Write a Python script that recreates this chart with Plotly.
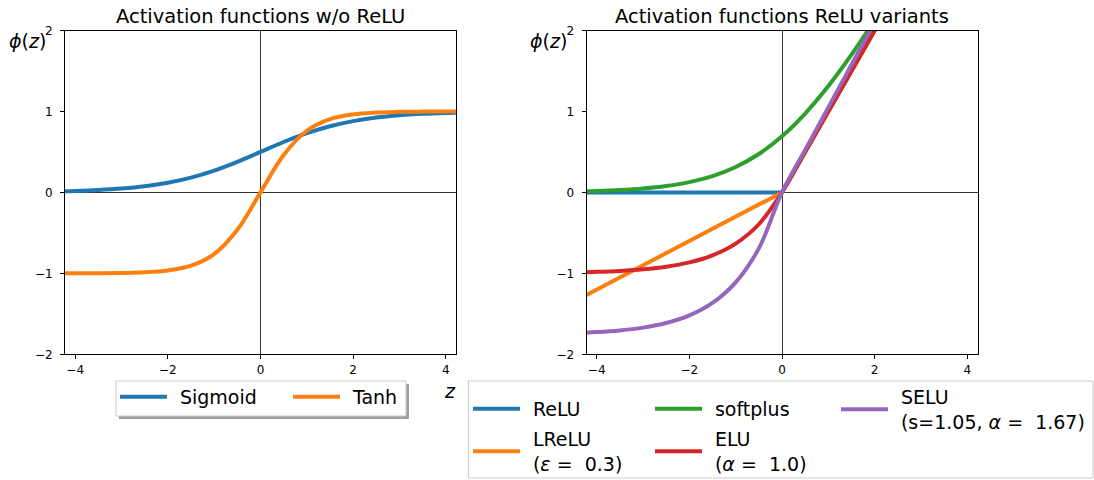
import plotly.graph_objects as go

W, H = 1094, 480

# ---------------- data ----------------
z = [-4.5, -4.0, -3.5, -3.0, -2.5, -2.0, -1.5, -1.0, -0.5, 0.0,
     0.5, 1.0, 1.5, 2.0, 2.5, 3.0, 3.5, 4.0, 4.5]

sigmoid = [0.0110, 0.0180, 0.0293, 0.0474, 0.0759, 0.1192, 0.1824, 0.2689, 0.3775, 0.5,
           0.6225, 0.7311, 0.8176, 0.8808, 0.9241, 0.9526, 0.9707, 0.9820, 0.9890]
tanh = [-0.9998, -0.9993, -0.9982, -0.9951, -0.9866, -0.9640, -0.9051, -0.7616, -0.4621, 0.0,
        0.4621, 0.7616, 0.9051, 0.9640, 0.9866, 0.9951, 0.9982, 0.9993, 0.9998]

relu = [0, 0, 0, 0, 0, 0, 0, 0, 0, 0,
        0.5, 1.0, 1.5, 2.0, 2.5, 3.0, 3.5, 4.0, 4.5]
lrelu = [-1.35, -1.2, -1.05, -0.9, -0.75, -0.6, -0.45, -0.3, -0.15, 0.0,
         0.5, 1.0, 1.5, 2.0, 2.5, 3.0, 3.5, 4.0, 4.5]
softplus = [0.0110, 0.0181, 0.0298, 0.0486, 0.0789, 0.1269, 0.2014, 0.3133, 0.4741, 0.6931,
            0.9741, 1.3133, 1.7014, 2.1269, 2.5789, 3.0486, 3.5298, 4.0181, 4.5110]
elu = [-0.9889, -0.9817, -0.9698, -0.9502, -0.9179, -0.8647, -0.7769, -0.6321, -0.3935, 0.0,
       0.5, 1.0, 1.5, 2.0, 2.5, 3.0, 3.5, 4.0, 4.5]
selu = [-1.7386, -1.7259, -1.7050, -1.6705, -1.6138, -1.5202, -1.3659, -1.1113, -0.6918, 0.0,
        0.5254, 1.0507, 1.5761, 2.1014, 2.6268, 3.1521, 3.6775, 4.2028, 4.7282]

left_names = ["Sigmoid", "Tanh"]
right_names = ["ReLU", "LReLU<br>(<i>ε</i> =\u00a0 0.3)", "softplus",
               "ELU<br>(<i>α</i> =\u00a0 1.0)", "SELU<br>(s=1.05, <i>α</i> =\u00a0 1.67)"]
titles = ["Activation functions w/o ReLU", "Activation functions ReLU variants"]
ticks = [-4, -2, 0, 2, 4]
yticks = [-2, -1, 0, 1, 2]

colors = ["#1f77b4", "#ff7f0e", "#2ca02c", "#d62728", "#9467bd"]
FONT = "DejaVu Sans"
LW = 4
ITEMW = 47
PAD = "\u00a0\u200a"  # small lead-in so legend text sits a little further from its line


def padded(label):
    return "<br>".join(PAD + part for part in label.split("<br>"))


def px(x):
    return x / W


def py(y):
    return 1 - y / H


fig = go.Figure()

# left panel
for name, ys, c in zip(left_names, [sigmoid, tanh], colors[:2]):
    fig.add_trace(go.Scatter(x=z, y=ys, mode="lines", name=padded(name),
                             line=dict(color=c, width=LW, shape="spline"),
                             xaxis="x", yaxis="y", legend="legend"))

# right panel (draw order as matplotlib); separate legends place entries like the reference
right_series = [relu, lrelu, softplus, elu, selu]
right_shapes = ["linear", "linear", "spline", "spline", "spline"]
right_legends = ["legend2", "legend4", "legend2", "legend4", "legend3"]
for name, ys, c, sh, lg in zip(right_names, right_series, colors, right_shapes, right_legends):
    fig.add_trace(go.Scatter(x=z, y=ys, mode="lines", name=padded(name),
                             line=dict(color=c, width=LW, shape=sh),
                             xaxis="x2", yaxis="y2", legend=lg))

axis_common = dict(
    range=[-4.22, 4.22], tickvals=ticks, showgrid=False,
    showline=True, linecolor="black", linewidth=1, mirror=True,
    ticks="outside", ticklen=4, tickwidth=1, tickcolor="black",
    zeroline=True, zerolinecolor="#333333", zerolinewidth=1,
    tickfont=dict(family=FONT, size=12, color="black"),
)
yaxis_common = dict(axis_common)
yaxis_common.update(range=[-2, 2], tickvals=yticks, ticklabelstandoff=5)


def legend_at(x, y, ew=None):
    d = dict(orientation="h", x=px(x), y=py(y), xanchor="left", yanchor="top",
             bgcolor="rgba(0,0,0,0)", borderwidth=0, itemwidth=ITEMW,
             font=dict(family=FONT, size=19, color="black"))
    if ew is not None:
        d["entrywidth"] = ew
    return d


ydom = [py(354.3), py(30.5)]
fig.update_layout(
    width=W, height=H,
    margin=dict(l=0, r=0, t=0, b=0, autoexpand=False),
    paper_bgcolor="white", plot_bgcolor="white",
    font=dict(family=FONT, color="black"),
    xaxis=dict(axis_common, domain=[px(65), px(456)], anchor="y"),
    yaxis=dict(yaxis_common, domain=ydom, anchor="x"),
    xaxis2=dict(axis_common, domain=[px(586.5), px(977.5)], anchor="y2"),
    yaxis2=dict(yaxis_common, domain=ydom, anchor="x2"),
    legend=legend_at(115, 378, 111),
    legend2=legend_at(468, 390, 120),
    legend3=legend_at(836, 378),
    legend4=legend_at(468, 420, 120),
    showlegend=True,
)

# legend frames (shadow + box), drawn as shapes behind legend entries
fig.add_shape(type="rect", xref="paper", yref="paper",
              x0=px(119), x1=px(409), y0=py(419), y1=py(384),
              fillcolor="#a0a0a0", line=dict(width=0), layer="above")
fig.add_shape(type="rect", xref="paper", yref="paper",
              x0=px(116), x1=px(406), y0=py(416), y1=py(381),
              fillcolor="white", line=dict(color="#cccccc", width=1), layer="above")
fig.add_shape(type="rect", xref="paper", yref="paper",
              x0=px(468.5), x1=px(1093), y0=py(478), y1=py(381),
              fillcolor="white", line=dict(color="#cccccc", width=1), layer="above")

# titles and labels
for t, cx in zip(titles, [260.5, 782]):
    fig.add_annotation(text=t, x=px(cx), y=py(16.5), xref="paper", yref="paper",
                       showarrow=False, xanchor="center", yanchor="middle",
                       font=dict(family=FONT, size=19.5, color="black"))
for cx in [27, 548.5]:
    fig.add_annotation(text="<i>ϕ</i>(<i>z</i>)", x=px(cx), y=py(41), xref="paper", yref="paper",
                       showarrow=False, xanchor="center", yanchor="middle",
                       font=dict(family=FONT, size=19, color="black"))
fig.add_annotation(text="<i>z</i>", x=px(450), y=py(391), xref="paper", yref="paper",
                   showarrow=False, xanchor="center", yanchor="middle",
                   font=dict(family=FONT, size=19, color="black"))

# remove the page's default body margin so the figure fills the window exactly
fig.write_html("out.html", config={"displayModeBar": False},
               post_script="document.body.style.margin='0';")
